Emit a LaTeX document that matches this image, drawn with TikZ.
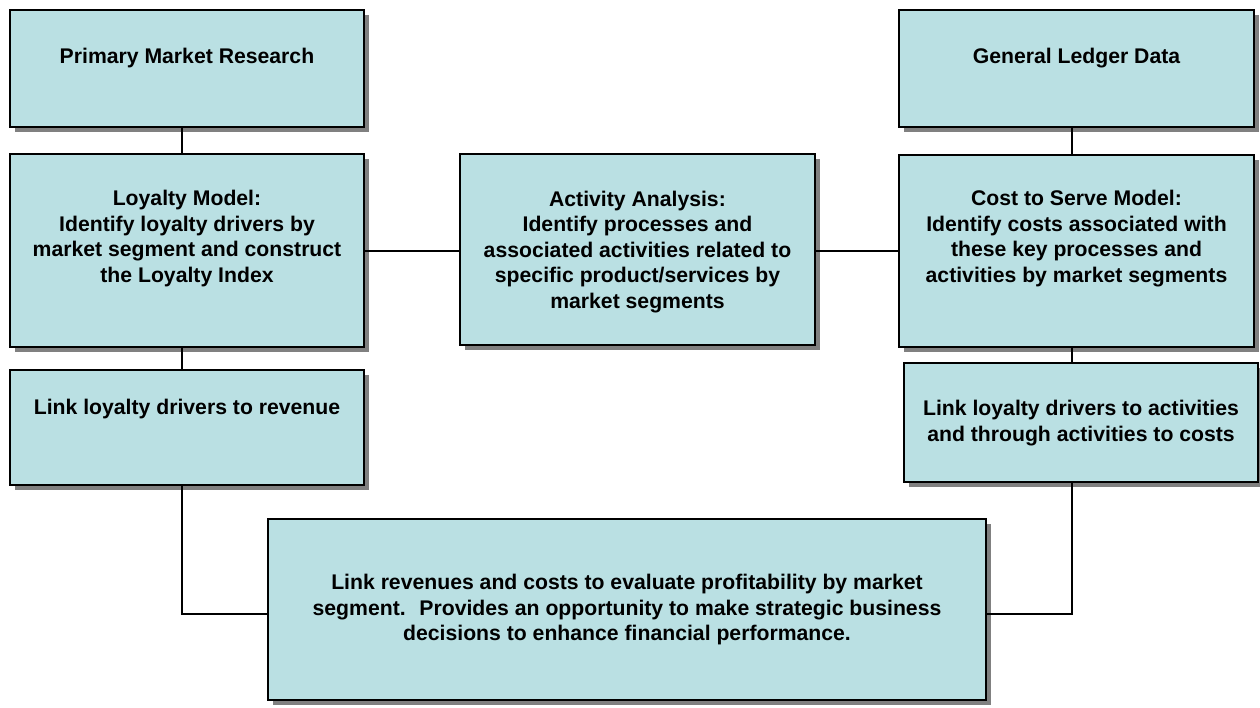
\documentclass[tikz,border=0pt]{standalone}
\usepackage{fontspec}
\setmainfont{Liberation Sans}
\usetikzlibrary{shadows}
\definecolor{boxfill}{RGB}{186,224,227}
\definecolor{shade}{RGB}{128,128,128}

\begin{document}
\begin{tikzpicture}[x=1pt, y=-1pt,
        box/.style={draw=black, line width=1.8pt, fill=boxfill, inner sep=0pt,
            drop shadow={shadow xshift=5pt, shadow yshift=-5pt, fill=shade, opacity=1}},
        txt/.style={align=center, inner sep=0pt, font=\fontsize{21.2}{25.5}\selectfont\bfseries},
        link/.style={line width=1.8pt}]
        \useasboundingbox (0,0) rectangle (1260,708);
        % boxes
        \node[box, minimum width=354pt, minimum height=117pt] (pmr) at (187, 68.5) {};
        \node[box, minimum width=354pt, minimum height=193pt] (loy) at (187, 250.5) {};
        \node[box, minimum width=355pt, minimum height=191pt] (act) at (637.5, 249.5) {};
        \node[box, minimum width=355pt, minimum height=117pt] (gl) at (1076.5, 68.5) {};
        \node[box, minimum width=355pt, minimum height=192pt] (cts) at (1076.5, 251) {};
        \node[box, minimum width=354pt, minimum height=115pt] (rev) at (187, 427.5) {};
        \node[box, minimum width=354pt, minimum height=119pt] (lac) at (1081, 422.5) {};
        \node[box, minimum width=718pt, minimum height=181pt] (prof) at (627, 609.5) {};
        % texts
        \node[txt] (pmrtext) at (187, 58) {Primary Market Research};
        \node[txt] (loytext) at (187, 238.5) {Loyalty Model:\\Identify loyalty drivers by\\market segment and construct\\the Loyalty Index};
        \node[txt] (acttext) at (637.5, 252) {Activity Analysis:\\Identify processes and\\associated activities related to\\specific product/services by\\market segments};
        \node[txt] (gltext) at (1076.5, 58) {General Ledger Data};
        \node[txt] (ctstext) at (1076.5, 238.5) {Cost to Serve Model:\\Identify costs associated with\\these key processes and\\activities by market segments};
        \node[txt] (revtext) at (187, 409) {Link loyalty drivers to revenue};
        \node[txt] (lactext) at (1081, 423) {Link loyalty drivers to activities\\and through activities to costs};
        \node[txt] (proftext) at (627, 610) {Link revenues and costs to evaluate profitability by market\\segment.~ Provides an opportunity to make strategic business\\decisions to enhance financial performance.};
        % connectors
        \coordinate (lx) at (182, 0);
        \coordinate (rx) at (1072, 0);
        \coordinate (my) at (0, 251);
        \coordinate (by) at (0, 614);
        \draw[link] (pmr.south -| lx) -- (loy.north -| lx);
        \draw[link] (loy.south -| lx) -- (rev.north -| lx);
        \draw[link] (loy.east |- my) -- (act.west |- my);
        \draw[link] (act.east |- my) -- (cts.west |- my);
        \draw[link] (gl.south -| rx) -- (cts.north -| rx);
        \draw[link] (cts.south -| rx) -- (lac.north -| rx);
        \draw[link] (rev.south -| lx) |- (prof.west |- by);
        \draw[link] (lac.south -| rx) |- (prof.east |- by);
    \end{tikzpicture}
\end{document}
